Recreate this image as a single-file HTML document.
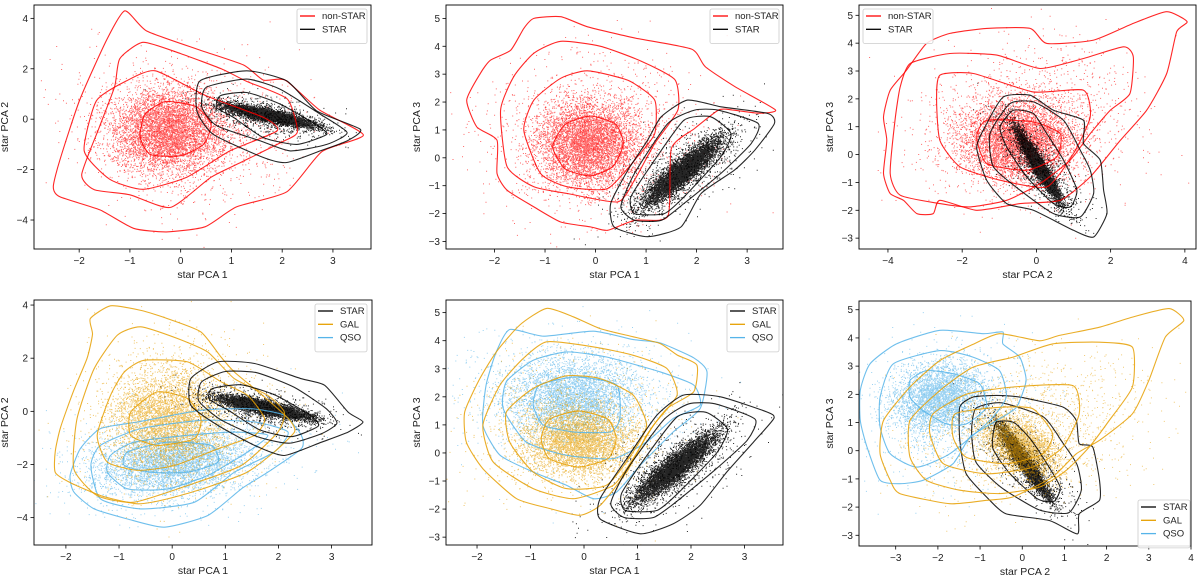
<!DOCTYPE html>
<html><head><meta charset="utf-8">
<style>
html,body{margin:0;padding:0;background:#fff;}
svg{display:block;font-family:"Liberation Sans","DejaVu Sans",sans-serif;}
</style></head>
<body>
<svg id="fig" width="1200" height="575" viewBox="0 0 1200 575" xmlns="http://www.w3.org/2000/svg"></svg>
<script>
// ---------- DATA (data coordinates) ----------
// scatter blobs: [cx, cy, ax, ay, bx, by, n]
const p1_nonstar_blobs=[[-0.25,-0.45,0.55,0,0,0.8,5000],[0,-0.5,1.0,-0.2,0,1.4,1500]];
const p1_star_blobs=[[1.75,0.15,0.42,-0.19,0.04,0.1,6000],[1.7,0.1,0.6,-0.3,0.15,0.3,800]];
const p2_nonstar_blobs=[[-0.15,0.5,0.5,0,0,0.75,5000],[0,0.8,1.0,0,0,1.4,1500]];
const p2_star_blobs=[[1.7,-0.5,0.36,0.6,0.12,-0.08,6000],[1.7,-0.5,0.55,0.9,0.35,-0.25,800]];
const p3_nonstar_blobs=[[-0.5,0.5,0.75,0,0,0.7,5000],[-0.3,1.2,1.4,0.2,0,1.3,1500]];
const p3_star_blobs=[[0.05,-0.4,0.28,-0.62,0.08,0.03,6000],[0.05,-0.4,0.5,-0.9,0.3,0.15,800]];
const p4_qso_blobs=[[0,-1.9,0.7,0.15,0,0.55,4000],[0.1,-1.9,1.1,0.3,0,1.0,1000]];
const p4_gal_blobs=[[-0.1,-0.3,0.5,0,0,0.9,4000],[0,0,0.9,0,0,1.5,1000]];
const p4_star_blobs=[[1.75,0.15,0.42,-0.19,0.04,0.1,6000],[1.7,0.1,0.6,-0.3,0.15,0.3,800]];
const p5_qso_blobs=[[-0.2,2.0,0.6,0,0,0.7,4000],[-0.2,2.0,1.1,0,0,1.2,1000]];
const p5_gal_blobs=[[-0.1,0.4,0.5,0,0,0.6,4000],[-0.2,0.8,1.0,0,0,1.3,1000]];
const p5_star_blobs=[[1.7,-0.5,0.36,0.6,0.12,-0.08,6000],[1.7,-0.5,0.55,0.9,0.35,-0.25,800]];
const p6_qso_blobs=[[-2.0,1.9,0.5,0,0.1,0.6,3500],[-1.8,1.5,1.0,0,0,1.2,1000]];
const p6_gal_blobs=[[-0.1,0.2,0.33,-0.5,0.28,0.18,3500],[0.2,0.8,1.3,0.3,0,1.2,1500]];
const p6_star_blobs=[[0.05,-0.4,0.28,-0.62,0.08,0.03,5000],[0.05,-0.4,0.5,-0.9,0.3,0.15,800]];

// contours
const p1_nonstar_contours=[
[[-1.1,4.3],[-0.67,3.5],[0.38,2.74],[1.24,2.15],[1.63,1.55],[2.06,1.55],[2.74,0.36],[3.6,-0.63],[2.78,-1.29],[2.09,-2.88],[1.1,-3.48],[0.48,-4.27],[-0.28,-4.47],[-0.93,-4.33],[-1.59,-3.6],[-2.38,-3.08],[-2.51,-2.68],[-2.38,-1.62],[-1.99,0.76],[-1.46,3.14]],
[[-0.74,3.05],[0,2.6],[0.81,1.99],[1.3,1.5],[2.1,0.8],[2.3,-0.5],[2.0,-0.9],[1.2,-1.7],[0.6,-2.3],[-0.2,-3.5],[-1.0,-3.0],[-1.7,-2.8],[-1.95,-2.2],[-1.6,-0.3],[-1.3,1.3],[-1.2,2.4]],
[[-0.5,1.92],[0.5,0.93],[1.63,0.07],[1.9,-0.46],[0.97,-1.26],[0.12,-2.3],[-0.74,-2.78],[-1.4,-2.38],[-1.9,-1.26],[-1.66,0.73],[-1.07,1.52]],
[[-0.3,0.7],[0.3,0.5],[0.6,-0.2],[0.45,-1.0],[0,-1.45],[-0.6,-1.4],[-0.8,-0.7],[-0.7,0.2]]];
const p1_star_contours=[
[[0.38,1.52],[1.3,1.92],[2.09,1.52],[2.68,0.33],[3.54,-0.4],[3.28,-0.86],[2.75,-1.26],[2.09,-1.72],[1.63,-1.52],[0.64,-0.6],[0.32,0.33]],
[[0.5,1.26],[1.3,1.59],[1.96,1.19],[2.75,0.2],[3.28,-0.53],[2.88,-1.0],[2.16,-1.26],[1.57,-0.86],[0.71,-0.26],[0.42,0.46]],
[[0.78,0.93],[1.3,1.06],[1.96,0.6],[2.65,-0.2],[2.88,-0.6],[2.29,-1.0],[1.63,-0.73],[1.04,0.07],[0.71,0.46]]];
const p2_nonstar_contours=[
[[-1.22,5.0],[-0.69,5.06],[-0.16,4.7],[0.77,4.3],[1.9,3.9],[2.17,3.27],[2.76,2.55],[3.56,1.72],[3.23,1.6],[2.7,1.72],[2.44,1.72],[1.96,1.05],[1.5,0.33],[1.43,-2.1],[0.77,-2.24],[0.24,-2.6],[-0.09,-2.48],[-0.69,-2.3],[-1.22,-1.76],[-1.75,-1.16],[-1.95,-0.56],[-1.95,0.63],[-2.35,1.11],[-2.55,2.07],[-2.28,3.03],[-2.08,3.5],[-1.68,3.86],[-1.42,4.64]],
[[-0.69,4.18],[0.1,4.0],[0.9,3.47],[1.57,2.8],[1.63,1.72],[1.17,0.51],[0.77,-0.8],[0.44,-1.58],[-0.56,-1.28],[-1.22,-1.04],[-1.75,-0.32],[-1.88,1.71],[-1.62,2.91],[-1.22,3.75]],
[[-0.16,3.12],[0.64,2.78],[1.17,2.07],[1.17,0.87],[0.83,0.04],[0.24,-1.1],[-0.56,-1.04],[-1.09,-0.56],[-1.42,0.99],[-1.22,2.07],[-0.69,2.85]],
[[-0.1,1.5],[0.4,1.2],[0.55,0.5],[0.35,-0.3],[-0.1,-0.65],[-0.6,-0.4],[-0.85,0.4],[-0.6,1.2]]];
const p2_star_contours=[
[[1.3,1.47],[1.82,2.07],[2.48,1.83],[3.41,1.59],[3.54,1.23],[3.15,0.27],[2.75,-0.44],[2.09,-1.28],[1.69,-2.48],[1.03,-2.83],[0.37,-2.48],[0.3,-1.64],[0.64,-0.44],[1.03,0.63]],
[[1.43,1.23],[1.96,1.71],[2.42,1.71],[3.22,1.23],[3.08,0.51],[2.48,-0.56],[1.75,-1.64],[1.3,-2.24],[0.77,-2.24],[0.5,-1.76],[0.77,-0.56]],
[[1.75,1.35],[2.28,1.47],[2.68,0.87],[2.48,0.04],[1.75,-1.4],[1.36,-2.0],[0.77,-2.0],[0.7,-1.4],[1.17,-0.08]]];
const p3_nonstar_contours=[
[[-2.33,4.35],[-1.34,4.53],[-0.17,4.53],[0.28,3.99],[1.54,4.11],[2.61,4.71],[3.51,5.13],[4.06,4.77],[3.78,4.41],[3.51,2.91],[2.97,1.59],[2.26,0.51],[1.45,-0.8],[0.64,-1.64],[-0.44,-1.76],[-1.61,-2.0],[-2.6,-1.64],[-2.78,-2.12],[-3.22,-2.12],[-3.58,-1.64],[-3.94,-1.4],[-4.12,-0.68],[-4.03,0.51],[-4.12,1.35],[-3.94,2.31],[-3.5,3.03],[-2.96,3.99]],
[[-3.4,3.27],[-2.33,3.63],[-1.07,3.57],[0.1,3.09],[1.27,3.45],[2.35,3.87],[2.61,3.51],[2.52,2.19],[1.99,1.59],[1.45,0.75],[0.91,-0.2],[0.1,-1.04],[-0.8,-1.64],[-1.79,-1.88],[-2.6,-1.76],[-3.67,-1.46],[-3.94,-0.68],[-3.81,1.23],[-3.67,2.43]],
[[-2.6,2.85],[-1.7,2.91],[-0.08,2.25],[1.27,2.31],[1.45,1.35],[1.0,0.04],[0.28,-1.16],[-0.98,-0.92],[-2.06,-0.44],[-2.6,0.51],[-2.69,1.95]],
[[-1.34,1.23],[-0.08,1.17],[0.64,0.75],[0.55,-0.08],[-0.26,-0.56],[-1.34,-0.32],[-1.61,0.63]]];
const p3_star_contours=[
[[-0.89,2.07],[-0.17,2.13],[0.46,1.59],[1.27,1.23],[1.27,0.4],[1.72,-0.2],[1.81,-1.28],[1.9,-2.12],[1.54,-2.96],[1.0,-2.72],[-0.08,-2.0],[-0.8,-1.76],[-1.34,-0.92],[-1.61,0.27],[-1.34,1.11]],
[[-0.71,1.83],[-0.08,1.89],[0.73,1.23],[1.18,0.16],[1.45,-0.56],[1.54,-1.4],[1.18,-2.24],[0.46,-2.12],[-0.44,-1.28],[-1.16,-0.44],[-1.25,0.75]],
[[-0.62,1.59],[-0.08,1.47],[0.28,0.75],[0.73,-0.2],[1.09,-1.28],[0.91,-1.88],[0.46,-1.76],[-0.26,-0.8],[-0.8,0.27],[-0.98,0.99]]];
const p4_gal_contours=[
[[-1.54,3.49],[-1.16,3.97],[-0.59,3.8],[-0.09,3.49],[0.54,2.99],[0.92,2.04],[1.17,1.48],[1.55,0.85],[1.99,0.1],[2.24,-0.4],[2.3,-0.78],[1.92,-1.53],[1.4,-2.3],[0.6,-2.9],[-0.1,-3.3],[-0.65,-3.48],[-1.3,-3.2],[-1.9,-2.7],[-2.2,-2.3],[-2.2,-1.5],[-2.1,-0.6],[-1.85,0.8],[-1.6,2.0],[-1.5,2.9]],
[[-1.03,2.87],[-0.59,3.18],[0.1,2.74],[0.67,2.23],[1.17,1.23],[1.8,0.6],[2.11,-0.03],[1.99,-0.78],[1.3,-2.04],[0.29,-2.79],[-0.72,-3.42],[-1.41,-3.17],[-1.85,-2.17],[-1.79,-0.28],[-1.47,1.6]],
[[-0.53,1.92],[0.29,1.86],[0.92,1.11],[1.42,0.6],[1.74,-0.28],[1.55,-0.9],[0.86,-1.41],[0.04,-2.04],[-0.65,-2.22],[-1.22,-1.91],[-1.41,-0.9],[-1.16,0.6],[-0.9,1.48]],
[[-0.28,0.73],[0.29,0.48],[0.54,-0.28],[0.42,-1.03],[-0.28,-1.28],[-0.78,-0.9],[-0.78,-0.03]]];
const p4_qso_contours=[
[[-1.92,-2.41],[-1.73,-1.41],[-1.35,-0.65],[-0.65,-0.4],[0.54,0.04],[1.48,0.1],[2.11,-0.15],[2.43,-0.9],[2.43,-1.41],[1.8,-2.29],[1.3,-2.92],[0.67,-3.92],[-0.15,-4.36],[-0.84,-4.05],[-1.47,-3.67],[-1.85,-3.04]],
[[-1.53,-2.04],[-1.35,-1.28],[-0.59,-0.65],[0.54,-0.34],[1.55,-0.4],[2.18,-0.78],[1.92,-1.53],[1.17,-2.29],[0.42,-3.42],[-0.59,-3.67],[-1.35,-3.29]],
[[-1.16,-1.66],[-0.72,-1.16],[0.29,-0.9],[1.17,-0.78],[1.8,-0.9],[1.42,-1.53],[0.67,-2.41],[-0.09,-2.92],[-0.84,-2.92],[-1.22,-2.29]],
[[-0.84,-1.53],[-0.09,-1.16],[0.73,-1.28],[0.86,-1.91],[0.29,-2.29],[-0.4,-2.29],[-0.9,-2.04]]];
const p4_star_contours=[
[[0.35,1.23],[0.86,1.86],[1.55,1.8],[2.43,1.23],[2.87,0.98],[3.31,-0.03],[3.59,-0.4],[3.31,-0.78],[2.81,-1.16],[2.11,-1.66],[1.55,-1.28],[0.86,-0.53],[0.35,0.23]],
[[0.55,1.1],[1.0,1.5],[1.6,1.45],[2.3,0.9],[2.9,0.1],[3.1,-0.45],[2.8,-0.85],[2.2,-1.2],[1.6,-0.95],[0.9,-0.3],[0.5,0.4]],
[[0.75,0.85],[1.3,1.0],[1.95,0.6],[2.6,-0.15],[2.75,-0.55],[2.25,-0.95],[1.65,-0.7],[1.05,0.05],[0.7,0.45]]];
const p5_gal_contours=[
[[-0.7,5.15],[-0.2,4.85],[0.3,4.43],[0.92,4.14],[1.42,3.9],[1.74,3.49],[2.11,3.13],[2.05,2.18],[1.55,1.58],[1.17,0.63],[0.8,-0.67],[0.3,-1.87],[-0.08,-2.22],[-0.64,-1.98],[-1.26,-1.63],[-1.89,-0.56],[-2.2,0.39],[-2.23,1.46],[-1.95,2.64],[-1.64,3.6],[-1.2,4.56]],
[[-0.7,3.96],[0.18,3.78],[0.92,3.48],[1.55,3.01],[1.74,2.06],[1.3,0.99],[0.92,-0.2],[0.55,-1.15],[-0.2,-1.63],[-0.95,-1.27],[-1.7,-0.32],[-1.89,0.99],[-1.57,2.42],[-1.14,3.36]],
[[-0.33,2.75],[0.3,2.65],[0.92,2.06],[1.17,0.99],[0.92,0.04],[0.42,-1.15],[-0.33,-1.27],[-0.95,-0.68],[-1.39,0.39],[-1.45,1.46],[-0.95,2.3]],
[[-0.1,1.5],[0.45,1.2],[0.6,0.5],[0.45,-0.2],[-0.1,-0.5],[-0.65,-0.2],[-0.8,0.5],[-0.65,1.2]]];
const p5_qso_contours=[
[[-1.39,4.4],[-0.76,4.16],[0.18,4.34],[0.92,4.04],[1.42,3.92],[2.05,3.39],[2.3,2.89],[2.17,1.58],[1.67,0.75],[1.05,-0.44],[0.61,-1.39],[0.18,-1.63],[-0.33,-1.15],[-0.95,-0.68],[-1.57,-0.08],[-1.89,0.99],[-1.83,2.42],[-1.64,3.6]],
[[-0.95,3.3],[-0.33,3.6],[0.42,3.42],[1.42,2.89],[2.05,2.42],[2.17,1.7],[1.67,1.23],[1.17,0.39],[0.55,-0.2],[-0.33,-0.08],[-1.08,0.39],[-1.51,1.58],[-1.45,2.54]],
[[-0.83,2.42],[-0.14,2.71],[0.61,2.42],[0.67,1.23],[0.49,0.75],[-0.2,0.75],[-0.76,0.99],[-0.95,1.7]]];
const p5_star_contours=[
[[1.36,1.34],[1.86,2.06],[2.55,2.0],[3.42,1.46],[3.55,1.23],[3.17,0.39],[2.67,-0.68],[2.17,-1.87],[1.67,-2.52],[1.05,-2.88],[0.3,-2.35],[0.3,-1.63],[0.8,-0.2]],
[[1.5,1.2],[1.96,1.75],[2.45,1.75],[3.2,1.2],[3.05,0.45],[2.45,-0.6],[1.75,-1.7],[1.3,-2.3],[0.75,-2.3],[0.5,-1.8],[0.8,-0.6]],
[[1.75,1.3],[2.28,1.45],[2.68,0.85],[2.48,0.0],[1.75,-1.45],[1.36,-2.05],[0.77,-2.05],[0.7,-1.45],[1.17,-0.1]]];
const p6_gal_contours=[
[[-3.37,-0.11],[-3.13,-1.05],[-2.9,-1.52],[-1.72,-1.88],[-0.85,-1.76],[-0.22,-1.64],[0.72,-0.93],[1.28,-0.11],[1.83,0.37],[2.61,1.31],[3.0,2.49],[3.39,4.03],[3.83,4.62],[3.48,5.04],[2.61,4.74],[1.83,4.38],[0.88,4.09],[0.41,3.9],[-0.54,4.15],[-1.17,3.77],[-1.95,3.2],[-2.66,2.26],[-3.29,1.07]],
[[-2.66,1.07],[-1.95,2.14],[-1.17,2.96],[-0.22,3.32],[0.72,3.79],[1.83,3.85],[2.61,3.67],[2.61,2.26],[2.06,1.07],[1.59,0.13],[1.04,-0.7],[0.41,-1.29],[-0.54,-1.52],[-1.48,-1.4],[-2.27,-1.05],[-2.66,-0.23]],
[[-2.11,1.31],[-1.33,2.0],[-0.22,2.26],[1.2,2.31],[1.35,1.31],[0.96,0.13],[0.25,-0.58],[-0.85,-0.82],[-1.87,-0.46],[-2.19,0.6]],
[[-1.59,1.31],[-0.54,1.54],[0.25,1.49],[0.72,0.6],[0.49,-0.11],[-0.38,-0.46],[-1.33,-0.23],[-1.64,0.48]]];
const p6_qso_contours=[
[[-3.84,2.14],[-3.61,3.08],[-2.98,3.79],[-1.95,4.27],[-0.93,4.15],[-0.46,4.21],[-0.46,3.79],[-0.06,3.32],[0.09,2.49],[-0.14,1.54],[-0.61,1.07],[-1.24,0.48],[-1.64,-0.46],[-2.35,-1.05],[-2.9,-1.17],[-3.37,-1.05],[-3.68,0.13],[-3.84,1.07]],
[[-3.37,1.9],[-3.06,3.08],[-1.95,3.55],[-1.17,3.32],[-0.54,2.84],[-0.38,1.9],[-0.77,1.07],[-1.72,-0.11],[-2.5,-0.58],[-3.13,-0.11],[-3.37,0.84]],
[[-2.66,2.49],[-2.27,2.84],[-1.64,2.73],[-1.01,2.37],[-0.85,1.54],[-1.33,0.95],[-1.8,0.95],[-2.35,1.42],[-2.66,1.9]]];
const p6_star_contours=[
[[-1.48,1.55],[-1.17,1.9],[-0.61,1.96],[-0.06,1.9],[0.96,1.55],[1.28,1.07],[1.35,0.25],[1.67,0.13],[1.83,-1.05],[1.83,-1.76],[1.35,-2.24],[1.31,-2.95],[0.65,-2.48],[-0.38,-2.24],[-0.77,-1.76],[-1.33,-0.82],[-1.48,0.37]],
[[-1.1,1.5],[-0.5,1.7],[0.5,1.2],[0.95,0.3],[1.3,-0.5],[1.4,-1.4],[1.1,-2.2],[0.4,-2.1],[-0.5,-1.3],[-1.1,-0.4],[-1.2,0.7]],
[[-0.62,1.0],[-0.2,1.0],[0.2,0.4],[0.6,-0.5],[0.9,-1.3],[0.75,-1.8],[0.35,-1.7],[-0.3,-0.8],[-0.7,0.1]]];

// tick labels
const p1_xticks=[-2,-1,0,1,2,3], p1_yticks=[-4,-2,0,2,4];
const p2_xticks=[-2,-1,0,1,2,3], p2_yticks=[-3,-2,-1,0,1,2,3,4,5];
const p3_xticks=[-4,-2,0,2,4], p3_yticks=[-3,-2,-1,0,1,2,3,4,5];
const p4_xticks=[-2,-1,0,1,2,3], p4_yticks=[-4,-2,0,2,4];
const p5_xticks=[-2,-1,0,1,2,3], p5_yticks=[-3,-2,-1,0,1,2,3,4,5];
const p6_xticks=[-3,-2,-1,0,1,2,3,4], p6_yticks=[-3,-2,-1,0,1,2,3,4,5];

const RED='#ff0000', BLK='#000000', GAL='#e69f00', QSO='#56b4e9';
const NS='http://www.w3.org/2000/svg';
const svg=document.getElementById('fig');

const panels=[
 {id:'p1',px:[34,371],py:[5,249],xl:[-2.89,3.75],yl:[-5.15,4.53],xt:p1_xticks,yt:p1_yticks,xlab:'star PCA 1',ylab:'star PCA 2',
  layers:[{n:'non-STAR',c:RED,b:p1_nonstar_blobs,k:p1_nonstar_contours,a:0.6},{n:'STAR',c:BLK,b:p1_star_blobs,k:p1_star_contours,a:0.85}],
  leg:{x:297,y:9,w:70,order:[0,1]}},
 {id:'p2',px:[446,783],py:[5,249],xl:[-2.96,3.71],yl:[-3.27,5.48],xt:p2_xticks,yt:p2_yticks,xlab:'star PCA 1',ylab:'star PCA 3',
  layers:[{n:'non-STAR',c:RED,b:p2_nonstar_blobs,k:p2_nonstar_contours,a:0.6},{n:'STAR',c:BLK,b:p2_star_blobs,k:p2_star_contours,a:0.85}],
  leg:{x:710,y:9,w:69,order:[0,1]}},
 {id:'p3',px:[859,1196],py:[5,249],xl:[-4.78,4.30],yl:[-3.39,5.37],xt:p3_xticks,yt:p3_yticks,xlab:'star PCA 2',ylab:'star PCA 3',
  layers:[{n:'non-STAR',c:RED,b:p3_nonstar_blobs,k:p3_nonstar_contours,a:0.6},{n:'STAR',c:BLK,b:p3_star_blobs,k:p3_star_contours,a:0.85}],
  leg:{x:863,y:9,w:70,order:[0,1]}},
 {id:'p4',px:[34,372],py:[300,545],xl:[-2.6,3.76],yl:[-5.03,4.19],xt:p4_xticks,yt:p4_yticks,xlab:'star PCA 1',ylab:'star PCA 2',
  layers:[{n:'QSO',c:QSO,b:p4_qso_blobs,k:p4_qso_contours,a:0.6},{n:'GAL',c:GAL,b:p4_gal_blobs,k:p4_gal_contours,a:0.6},{n:'STAR',c:BLK,b:p4_star_blobs,k:p4_star_contours,a:0.85}],
  leg:{x:315,y:304,w:52,order:[2,1,0]}},
 {id:'p5',px:[446,783],py:[300,545],xl:[-2.58,3.72],yl:[-3.28,5.45],xt:p5_xticks,yt:p5_yticks,xlab:'star PCA 1',ylab:'star PCA 3',
  layers:[{n:'QSO',c:QSO,b:p5_qso_blobs,k:p5_qso_contours,a:0.6},{n:'GAL',c:GAL,b:p5_gal_blobs,k:p5_gal_contours,a:0.6},{n:'STAR',c:BLK,b:p5_star_blobs,k:p5_star_contours,a:0.85}],
  leg:{x:727,y:304,w:52,order:[2,1,0]}},
 {id:'p6',px:[859,1191],py:[301,546],xl:[-3.87,4.0],yl:[-3.38,5.31],xt:p6_xticks,yt:p6_yticks,xlab:'star PCA 2',ylab:'star PCA 3',
  layers:[{n:'STAR',c:BLK,b:p6_star_blobs,k:p6_star_contours,a:0.85},{n:'QSO',c:QSO,b:p6_qso_blobs,k:p6_qso_contours,a:0.6},{n:'GAL',c:GAL,b:p6_gal_blobs,k:p6_gal_contours,a:0.55}],
  leg:{x:1138,y:500,w:52,order:[0,2,1]}}
];

let seed=12345;
function rnd(){seed|=0;seed=seed+0x6D2B79F5|0;let t=Math.imul(seed^seed>>>15,1|seed);t=t+Math.imul(t^t>>>7,61|t)^t;return((t^t>>>14)>>>0)/4294967296;}
function gauss(){let u=rnd()||1e-9,v=rnd();return Math.sqrt(-2*Math.log(u))*Math.cos(2*Math.PI*v);}
function el(tag,attrs,parent){const e=document.createElementNS(NS,tag);for(const k in attrs)e.setAttribute(k,attrs[k]);(parent||svg).appendChild(e);return e;}
function fmt(v){return v<0?'\u2212'+Math.abs(v):String(v);}
function smooth(pts){
  const n=pts.length;let d='M'+pts[0][0].toFixed(1)+' '+pts[0][1].toFixed(1);
  for(let i=0;i<n;i++){
    const p0=pts[(i-1+n)%n],p1=pts[i],p2=pts[(i+1)%n],p3=pts[(i+2)%n];
    const c1=[p1[0]+(p2[0]-p0[0])/10,p1[1]+(p2[1]-p0[1])/10],c2=[p2[0]-(p3[0]-p1[0])/10,p2[1]-(p3[1]-p1[1])/10];
    d+='C'+c1[0].toFixed(1)+' '+c1[1].toFixed(1)+' '+c2[0].toFixed(1)+' '+c2[1].toFixed(1)+' '+p2[0].toFixed(1)+' '+p2[1].toFixed(1);
  }
  return d+'Z';
}

panels.forEach(P=>{
  const X=v=>P.px[0]+(v-P.xl[0])/(P.xl[1]-P.xl[0])*(P.px[1]-P.px[0]);
  const Y=v=>P.py[1]-(v-P.yl[0])/(P.yl[1]-P.yl[0])*(P.py[1]-P.py[0]);
  const g=el('g',{});
  
  
  const cid='clip-'+P.id;
  const cp=el('clipPath',{id:cid},g);
  el('rect',{x:P.px[0],y:P.py[0],width:P.px[1]-P.px[0],height:P.py[1]-P.py[0]},cp);
  const plot=el('g',{'clip-path':'url(#'+cid+')'},g);
  
  
  P.layers.forEach(L=>{
    L.b.forEach((b,bi)=>{
      let d='';
      for(let i=0;i<b[6];i++){
        const g1=gauss(),g2=gauss();
        const x=X(b[0]+g1*b[2]+g2*b[4]),y=Y(b[1]+g1*b[3]+g2*b[5]);
        d+='M'+x.toFixed(1)+' '+y.toFixed(1)+'h1v1h-1z';
      }
      const p=el('path',{d:d,fill:L.c,'fill-opacity':L.a},plot);
      
      
    });
  });
  P.layers.forEach(L=>{
    L.k.forEach((c,ci)=>{
      const pts=c.map(q=>[X(q[0]),Y(q[1])]);
      const p=el('path',{d:smooth(pts),fill:'none',stroke:L.c,'stroke-width':1.1,'stroke-opacity':0.85},plot);
      
      
    });
  });
  const fr=el('rect',{x:P.px[0],y:P.py[0],width:P.px[1]-P.px[0],height:P.py[1]-P.py[0],fill:'none',stroke:'#000','stroke-width':0.9},g);
  
  
  P.xt.forEach(v=>{
    const x=X(v);
    const t=el('line',{x1:x,x2:x,y1:P.py[1],y2:P.py[1]+3.5,stroke:'#000','stroke-width':0.8},g);
    
    
    const tx=el('text',{x:x,y:P.py[1]+15,'font-size':10,'text-anchor':'middle',fill:'#222'},g);
    tx.textContent=fmt(v);
    
    
  });
  P.yt.forEach(v=>{
    const y=Y(v);
    const t=el('line',{x1:P.px[0]-3.5,x2:P.px[0],y1:y,y2:y,stroke:'#000','stroke-width':0.8},g);
    
    
    const tx=el('text',{x:P.px[0]-6,y:y+3.5,'font-size':10,'text-anchor':'end',fill:'#222'},g);
    tx.textContent=fmt(v);
    
    
  });
  const xl=el('text',{x:(P.px[0]+P.px[1])/2,y:P.py[1]+29,'font-size':10.5,'text-anchor':'middle',fill:'#222'},g);
  xl.textContent=P.xlab;
  
  
  const yx=P.px[0]-26, yy=(P.py[0]+P.py[1])/2;
  const yl=el('text',{x:yx,y:yy,'font-size':10.5,'text-anchor':'middle',fill:'#222',transform:'rotate(-90 '+yx+' '+yy+')'},g);
  yl.textContent=P.ylab;
  
  
  const n=P.leg.order.length,h=8+n*13.3;
  const lg=el('g',{},g);
  
  
  el('rect',{x:P.leg.x,y:P.leg.y,width:P.leg.w,height:h,rx:2,fill:'#fff','fill-opacity':0.85,stroke:'#ccc','stroke-width':0.8},lg);
  P.leg.order.forEach((li,i)=>{
    const L=P.layers[li],y=P.leg.y+10+i*13.3;
    const e=el('g',{},lg);
    
    
    el('line',{x1:P.leg.x+3,x2:P.leg.x+18,y1:y-3,y2:y-3,stroke:L.c,'stroke-width':1.3},e);
    const t=el('text',{x:P.leg.x+25,y:y,'font-size':9.5,fill:'#222'},e);
    t.textContent=L.n;
  });
});
</script>
</body></html>
